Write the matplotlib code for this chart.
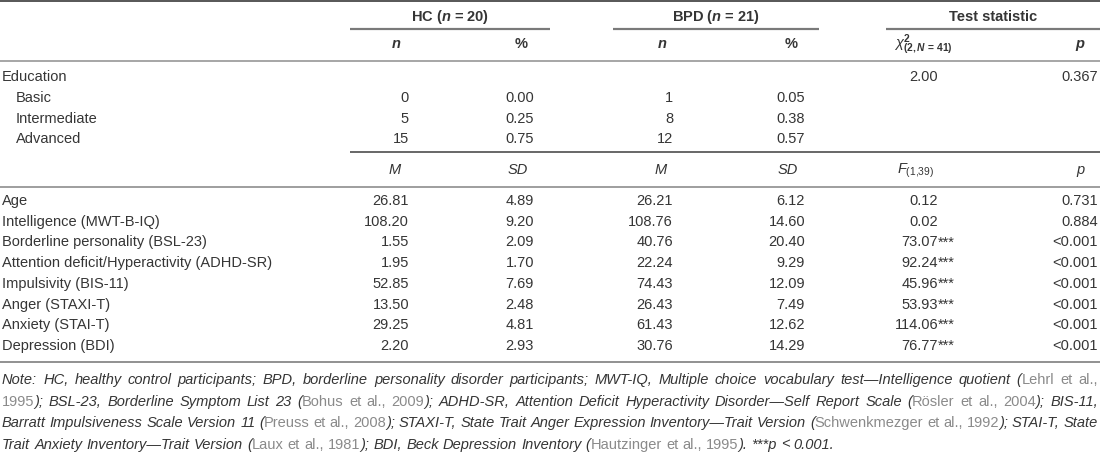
#!/usr/bin/env python3
"""
Demographic and clinical characteristics table (HC vs BPD), drawn with matplotlib.
"""

import matplotlib
matplotlib.use("Agg")
import matplotlib.pyplot as plt

# --- table content -----------------------------------------------------------
edu_levels = ["Basic", "Intermediate", "Advanced"]
hc_n = [0, 5, 15]
hc_pct = [0.00, 0.25, 0.75]
bpd_n = [1, 8, 12]
bpd_pct = [0.05, 0.38, 0.57]
edu_chi2 = 2.00
edu_p = "0.367"

measures = [
    "Age",
    "Intelligence (MWT-B-IQ)",
    "Borderline personality (BSL-23)",
    "Attention deficit/Hyperactivity (ADHD-SR)",
    "Impulsivity (BIS-11)",
    "Anger (STAXI-T)",
    "Anxiety (STAI-T)",
    "Depression (BDI)",
]
hc_m = [26.81, 108.20, 1.55, 1.95, 52.85, 13.50, 29.25, 2.20]
hc_sd = [4.89, 9.20, 2.09, 1.70, 7.69, 2.48, 4.81, 2.93]
bpd_m = [26.21, 108.76, 40.76, 22.24, 74.43, 26.43, 61.43, 30.76]
bpd_sd = [6.12, 14.60, 20.40, 9.29, 12.09, 7.49, 12.62, 14.29]
f_vals = [0.12, 0.02, 73.07, 92.24, 45.96, 53.93, 114.06, 76.77]
f_sig = ["", "", "***", "***", "***", "***", "***", "***"]
p_vals = ["0.731", "0.884", "<0.001", "<0.001", "<0.001", "<0.001", "<0.001", "<0.001"]

group_titles = [r"HC ($\mathbfit{n}$ = 20)", r"BPD ($\mathbfit{n}$ = 21)", "Test statistic"]

# note lines: (text, kind) pieces, kind "n" = note text, "c" = citation
note_lines = [
    [("Note: HC, healthy control participants; BPD, borderline personality disorder participants; "
      "MWT-IQ, Multiple choice vocabulary test\u2014Intelligence quotient (", "n"),
     ("Lehrl et al.,", "c")],
    [("1995", "c"), ("); BSL-23, Borderline Symptom List 23 (", "n"), ("Bohus et al., 2009", "c"),
     ("); ADHD-SR, Attention Deficit Hyperactivity Disorder\u2014Self Report Scale (", "n"),
     ("R\u00f6sler et al., 2004", "c"), ("); BIS-11,", "n")],
    [("Barratt Impulsiveness Scale Version 11 (", "n"), ("Preuss et al., 2008", "c"),
     ("); STAXI-T, State Trait Anger Expression Inventory\u2014Trait Version (", "n"),
     ("Schwenkmezger et al., 1992", "c"), ("); STAI-T, State", "n")],
    [("Trait Anxiety Inventory\u2014Trait Version (", "n"), ("Laux et al., 1981", "c"),
     ("); BDI, Beck Depression Inventory (", "n"), ("Hautzinger et al., 1995", "c"),
     ("). ***p < 0.001.", "n")],
]

# --- style / layout (pixel coordinates, 1100 x 461) ---------------------------
W, H = 1100, 461
TXT = "#353535"
CITE = "#8a8a8a"
FS = 10.5

plt.rcParams["font.family"] = ["Liberation Sans", "DejaVu Sans"]
plt.rcParams["mathtext.fontset"] = "custom"
plt.rcParams["mathtext.rm"] = "Liberation Sans"
plt.rcParams["mathtext.it"] = "Liberation Sans:italic"
plt.rcParams["mathtext.bf"] = "Liberation Sans:bold"
plt.rcParams["mathtext.bfit"] = "Liberation Sans:italic:bold"

LABEL_X = 2
SUB_X = 16
COL_R = [409, 534, 673, 805]      # right edges of numeric columns
HEAD_R = [401, 528, 667, 798]     # right edges of column headers
TEST_R = 938
TEST_HEAD_L = 894
P_R = 1098
P_HEAD_R = 1084


def px(v):
    return v * 0.72  # line width in points for v pixels at 100 dpi


def hline(ax, y, x0, x1, color, lw):
    ax.plot([x0, x1], [y, y], color=color, lw=px(lw), solid_capstyle="butt")


def draw_justified(ax, renderer, pieces, y, x0, x1, justify=True):
    words, cur = [], []
    for text, kind in pieces:
        parts = text.split(" ")
        for i, part in enumerate(parts):
            if i > 0 and cur:
                words.append(cur)
                cur = []
            if part:
                cur.append((part, kind))
    if cur:
        words.append(cur)

    def style(kind):
        if kind == "c":
            return dict(color=CITE, style="normal")
        return dict(color=TXT, style="italic")

    def width(text, kind):
        t = ax.text(0, 0, text, fontsize=FS, **style(kind))
        w = t.get_window_extent(renderer).width
        t.remove()
        return w

    widths = [[width(t, k) for t, k in w] for w in words]
    totals = [sum(w) for w in widths]
    if justify and len(words) > 1:
        gap = (x1 - x0 - sum(totals)) / (len(words) - 1)
    else:
        gap = width("a a", "n") - width("aa", "n")
    x = x0
    for word, ws in zip(words, widths):
        for (text, kind), w in zip(word, ws):
            ax.text(x, y, text, fontsize=FS, ha="left", va="center", **style(kind))
            x += w
        x += gap


def main():
    fig = plt.figure(figsize=(W / 100, H / 100), dpi=100)
    ax = fig.add_axes([0, 0, 1, 1])
    ax.set_xlim(0, W)
    ax.set_ylim(H, 0)
    ax.axis("off")
    renderer = fig.canvas.get_renderer()

    kw = dict(fontsize=FS, color=TXT, va="center")

    # rules
    hline(ax, 1.5, 0, W, "#5a5a5a", 2)
    hline(ax, 29, 350, 550, "#7a7a7a", 2.2)
    hline(ax, 29, 613, 819, "#7a7a7a", 2.2)
    hline(ax, 29, 886, W, "#7a7a7a", 2.2)
    hline(ax, 61.5, 0, W, "#a8a8a8", 2)
    hline(ax, 152, 350, W, "#3a3a3a", 1.5)
    hline(ax, 187.5, 0, W, "#a0a0a0", 2)
    hline(ax, 362, 0, W, "#707070", 1.5)

    # group titles
    for title, xc in zip(group_titles, [450, 716, 993]):
        ax.text(xc, 17, title, ha="center", fontweight="bold", **kw)

    # sub-headers (education block)
    for hx, lab in zip(HEAD_R, ["n", "%", "n", "%"]):
        ax.text(hx, 44, lab, ha="right", fontweight="bold",
                style="italic" if lab == "n" else "normal", **kw)
    ax.text(TEST_HEAD_L, 45,
            r"$\chi^{\mathbf{2}}_{\mathbf{(2,}\mathbfit{N}\mathbf{\,=\,41)}}$",
            ha="left", **kw)
    ax.text(P_HEAD_R, 44, "p", ha="right", fontweight="bold", style="italic", **kw)

    # education rows
    ax.text(LABEL_X, 77, "Education", ha="left", **kw)
    ax.text(TEST_R, 77, f"{edu_chi2:.2f}", ha="right", **kw)
    ax.text(P_R, 77, edu_p, ha="right", **kw)
    for i, lev in enumerate(edu_levels):
        y = 98 + i * 20.5
        ax.text(SUB_X, y, lev, ha="left", **kw)
        ax.text(COL_R[0], y, f"{hc_n[i]}", ha="right", **kw)
        ax.text(COL_R[1], y, f"{hc_pct[i]:.2f}", ha="right", **kw)
        ax.text(COL_R[2], y, f"{bpd_n[i]}", ha="right", **kw)
        ax.text(COL_R[3], y, f"{bpd_pct[i]:.2f}", ha="right", **kw)

    # sub-headers (continuous block)
    for hx, lab in zip(HEAD_R, ["M", "SD", "M", "SD"]):
        ax.text(hx, 170, lab, ha="right", style="italic", **kw)
    ax.text(TEST_HEAD_L + 3, 171, r"$\mathit{F}_{(1{,}39)}$", ha="left", **kw)
    ax.text(P_HEAD_R, 170, "p", ha="right", style="italic", **kw)

    # continuous rows
    for i, name in enumerate(measures):
        y = 201 + i * 20.7
        ax.text(LABEL_X, y, name, ha="left", **kw)
        ax.text(COL_R[0], y, f"{hc_m[i]:.2f}", ha="right", **kw)
        ax.text(COL_R[1], y, f"{hc_sd[i]:.2f}", ha="right", **kw)
        ax.text(COL_R[2], y, f"{bpd_m[i]:.2f}", ha="right", **kw)
        ax.text(COL_R[3], y, f"{bpd_sd[i]:.2f}", ha="right", **kw)
        ax.text(TEST_R, y, f"{f_vals[i]:.2f}", ha="right", **kw)
        if f_sig[i]:
            ax.text(TEST_R, y, f_sig[i], ha="left", **kw)
        ax.text(P_R, y, p_vals[i], ha="right", **kw)

    # note
    for i, pieces in enumerate(note_lines):
        y = 380 + i * 21.5
        draw_justified(ax, renderer, pieces, y, 2, 1098, justify=i < len(note_lines) - 1)

    fig.savefig("out.png", dpi=100)


if __name__ == "__main__":
    main()
